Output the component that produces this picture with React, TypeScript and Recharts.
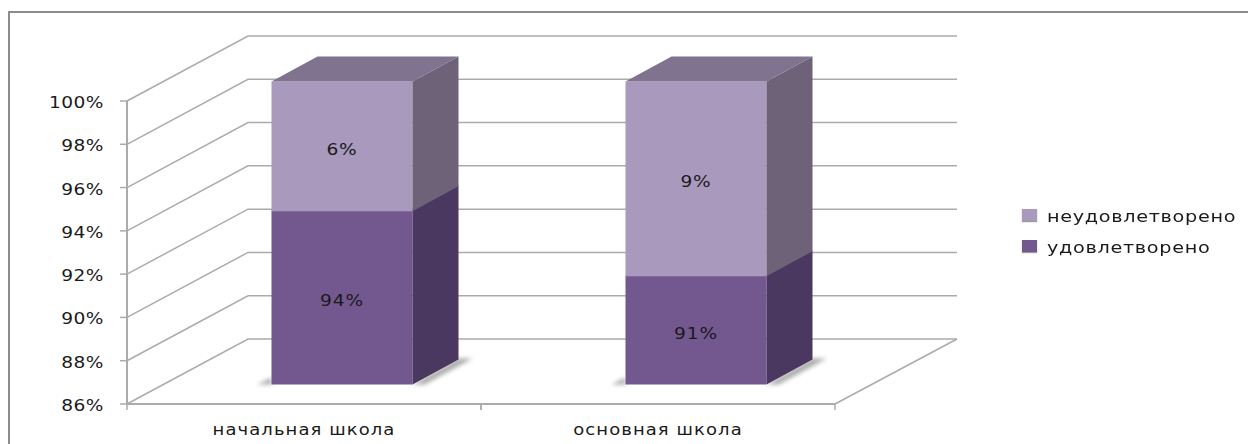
import { BarChart, Bar, XAxis, YAxis, Legend, CartesianGrid } from "recharts";

const categories = ["начальная школа", "основная школа"];
const satisfied = [94, 91];
const unsatisfied = [6, 9];
const yTicks = [86, 88, 90, 92, 94, 96, 98, 100];
const satisfiedName = "удовлетворено";
const unsatisfiedName = "неудовлетворено";

const data = categories.map((name, i) => ({
  name,
  satisfied: satisfied[i],
  unsatisfied: unsatisfied[i],
}));

const PLOT_LEFT = 127;
const PLOT_BOTTOM = 404;
const PLOT_RIGHT = 835;
const BAND_HALF = (PLOT_RIGHT - PLOT_LEFT) / categories.length / 2;
const WALL_DX = 121;
const WALL_DY = 65;
const WALL_RIGHT = 957;
const BAR_DX = 37.5;
const BAR_DY = 19.5;
const SIDE_DX = 46;
const SIDE_DY = 25;
const GRID = "#ababab";
const FONT = "'DejaVu Sans', sans-serif";
const STRETCH = 1.2;

// the original text is stretched sideways, so widen the glyphs the same way
const WideText = ({ x, y, anchor, size, spacing, children }: any) => (
  <text
    transform={`translate(${x},${y}) scale(${STRETCH},1)`}
    textAnchor={anchor}
    fontFamily={FONT}
    fontSize={size}
    letterSpacing={spacing}
    fill="#1a1a1a"
  >
    {children}
  </text>
);

// back wall and left wall lines of the fake 3D box, one per y tick
const GridLine = (props: any) => {
  const { y1 } = props;
  const isFloor = Math.abs(y1 - PLOT_BOTTOM) < 1;
  return (
    <g key={y1}>
      <polyline
        points={`${PLOT_LEFT},${y1} ${PLOT_LEFT + WALL_DX},${y1 - WALL_DY} ${WALL_RIGHT},${y1 - WALL_DY}`}
        fill="none"
        stroke={GRID}
        strokeWidth={1.5}
      />
      {isFloor && (
        <line
          x1={PLOT_RIGHT}
          y1={y1}
          x2={WALL_RIGHT}
          y2={y1 - WALL_DY}
          stroke={GRID}
          strokeWidth={1.5}
        />
      )}
    </g>
  );
};

const YTick = (props: any) => {
  const { y, payload } = props;
  return (
    <g>
      <line x1={PLOT_LEFT - 7} x2={PLOT_LEFT} y1={y} y2={y} stroke={GRID} strokeWidth={1.5} />
      <WideText x={104} y={y + 7} anchor="end" size={15.5} spacing={0.4}>
        {payload.value}%
      </WideText>
    </g>
  );
};

const XTick = (props: any) => {
  const { x, payload } = props;
  return (
    <g>
      <line x1={x - BAND_HALF} x2={x - BAND_HALF} y1={PLOT_BOTTOM} y2={PLOT_BOTTOM + 6} stroke={GRID} strokeWidth={1.5} />
      <line x1={x + BAND_HALF} x2={x + BAND_HALF} y1={PLOT_BOTTOM} y2={PLOT_BOTTOM + 6} stroke={GRID} strokeWidth={1.5} />
      <WideText x={x} y={435} anchor="middle" size={15} spacing={0.9}>
        {payload.value}
      </WideText>
    </g>
  );
};

const Block = (props: any) => {
  const { x, y, width, height, payload, dataKey, front, side, topFace } = props;
  const left = x + BAR_DX;
  const right = left + width;
  const top = y - BAR_DY;
  const bottom = Math.min(y + height, PLOT_BOTTOM) - BAR_DY;
  // lower block runs a bit under the upper one so no seam shows
  const faceTop = topFace ? top : top - 1;
  const value = payload[dataKey];
  return (
    <g>
      {dataKey === "satisfied" && (
        <g fill="#444" opacity={0.45} style={{ filter: "blur(2px)" }}>
          <polygon points={`${left - 14},${bottom} ${left},${bottom - 7} ${left},${bottom}`} />
          <polygon
            points={`${right},${bottom} ${right + SIDE_DX},${bottom - SIDE_DY - 1} ${right + SIDE_DX + 14},${bottom - SIDE_DY - 1} ${right + 12},${bottom}`}
          />
        </g>
      )}
      <rect x={left} y={faceTop} width={width} height={bottom - faceTop} fill={front} />
      <polygon
        points={`${right},${faceTop} ${right + SIDE_DX},${faceTop - SIDE_DY} ${right + SIDE_DX},${bottom - SIDE_DY} ${right},${bottom}`}
        fill={side}
      />
      {topFace && (
        <polygon
          points={`${left},${top} ${left + SIDE_DX},${top - SIDE_DY} ${right + SIDE_DX},${top - SIDE_DY} ${right},${top}`}
          fill={topFace}
        />
      )}
      <WideText x={(left + right) / 2} y={(top + bottom) / 2 + 8.5} anchor="middle" size={15.5} spacing={0.7}>
        {value}%
      </WideText>
    </g>
  );
};

const LegendBox = (props: any) => {
  const items = props.payload ?? [];
  return (
    <div style={{ fontFamily: FONT, fontSize: 16, letterSpacing: 0.58, color: "#1a1a1a" }}>
      {items.map((item: any) => (
        <div key={item.value} style={{ display: "flex", alignItems: "center", height: 31 }}>
          <span
            style={{
              display: "inline-block",
              width: 15,
              height: 12,
              marginRight: 10,
              marginTop: -4,
              background: item.color,
              boxShadow: "0 1px 1px #999",
            }}
          />
          <span style={{ display: "inline-block", transform: `scaleX(${STRETCH})`, transformOrigin: "left center" }}>
            {item.value}
          </span>
        </div>
      ))}
    </div>
  );
};

export default function App() {
  return (
    <div style={{ position: "absolute", left: 0, top: 0, width: 1248, height: 444, background: "#fff", overflow: "hidden" }}>
      {/* bars are drawn shifted into the box, so they must not be cut at the plot area */}
      <style>{".recharts-wrapper [clip-path]{clip-path:none !important}"}</style>
      <div
        style={{
          position: "absolute",
          left: 8,
          top: 11,
          width: 1300,
          height: 500,
          border: "2px solid #8c8c8c",
        }}
      />
      <BarChart
        width={1248}
        height={444}
        data={data}
        barSize={141}
        margin={{ top: 101, right: 413, bottom: 10, left: 67 }}
      >
        <CartesianGrid vertical={false} horizontal={GridLine} syncWithTicks />
        <YAxis
          type="number"
          domain={[86, 100]}
          ticks={yTicks}
          width={60}
          allowDataOverflow
          interval={0}
          tick={YTick}
          tickLine={false}
          axisLine={{ stroke: GRID, strokeWidth: 2 }}
        />
        <XAxis
          dataKey="name"
          height={30}
          tick={XTick}
          tickLine={false}
          axisLine={{ stroke: GRID, strokeWidth: 2 }}
        />
        <Bar
          dataKey="satisfied"
          name={satisfiedName}
          stackId="a"
          fill="#72588f"
          isAnimationActive={false}
          shape={(p: any) => <Block {...p} front="#72588f" side="#4a3860" />}
        />
        <Bar
          dataKey="unsatisfied"
          name={unsatisfiedName}
          stackId="a"
          fill="#a999bd"
          isAnimationActive={false}
          shape={(p: any) => <Block {...p} front="#a999bd" side="#6d6278" topFace="#7f7390" />}
        />
        <Legend
          layout="vertical"
          align="center"
          verticalAlign="middle"
          content={LegendBox}
          wrapperStyle={{ left: 1022, top: 201, width: 224 }}
        />
      </BarChart>
    </div>
  );
}
